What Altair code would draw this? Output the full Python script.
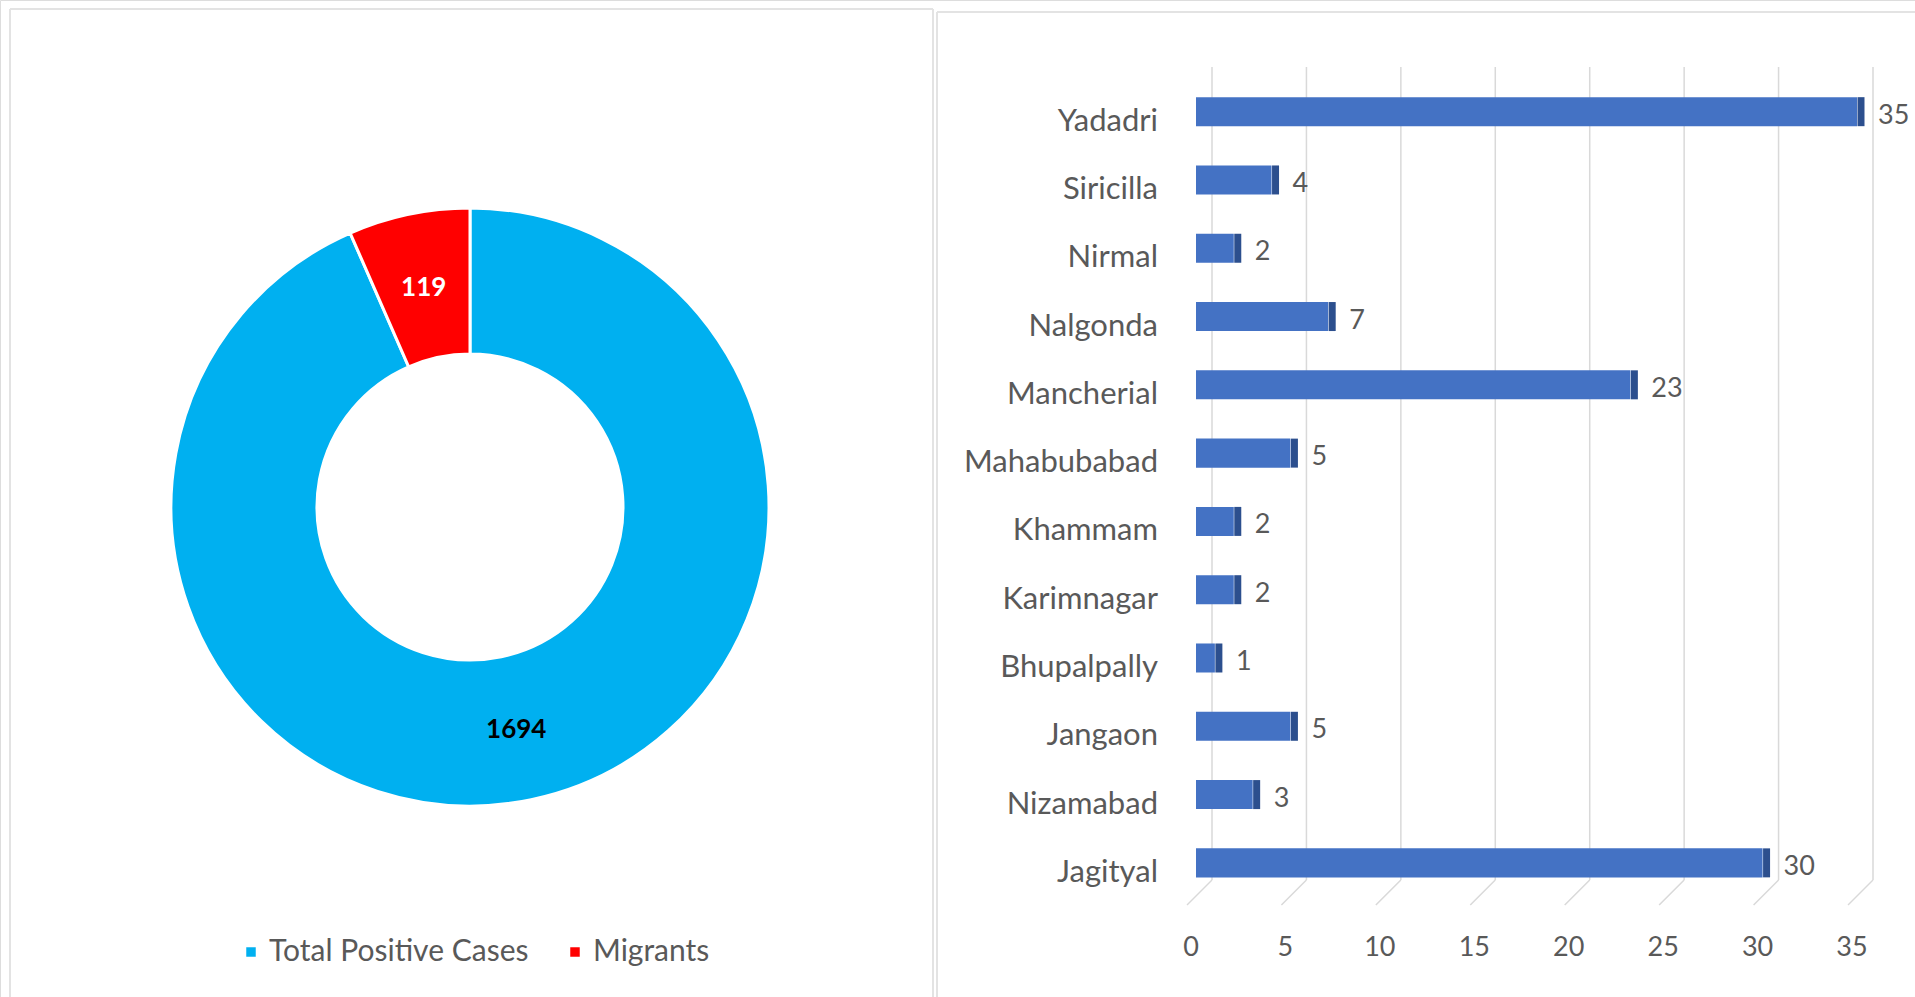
import altair as alt
import pandas as pd

# ---- data ----
districts = ["Yadadri", "Siricilla", "Nirmal", "Nalgonda", "Mancherial", "Mahabubabad",
             "Khammam", "Karimnagar", "Bhupalpally", "Jangaon", "Nizamabad", "Jagityal"]
counts = [35, 4, 2, 7, 23, 5, 2, 2, 1, 5, 3, 30]
categories = ["Total Positive Cases", "Migrants"]
case_values = [1694, 119]
ticks = [0, 5, 10, 15, 20, 25, 30, 35]

FONT = "Lato"
GRAY = "#595959"
GRID = "#d9d9d9"

donut_df = pd.DataFrame({"category": categories, "value": case_values,
                         "idx": list(range(len(categories)))})
bar_df = pd.DataFrame({"district": districts, "count": counts})
tick_df = pd.DataFrame({"tick": ticks})
one = pd.DataFrame({"a": [0]})

xscale = alt.Scale(domain=[0, 35], range=[1212, 1873], nice=False, zero=True)
yscale = alt.Scale(domain=districts, range=[67, 880], paddingInner=0.575,
                   paddingOuter=0.24, align=0.92)

# ---- donut ----
theta = alt.Theta("value:Q", stack=True)
order = alt.Order("idx:Q")
arc = alt.Chart(donut_df).mark_arc(radius=299, innerRadius=153, stroke="white",
                                   strokeWidth=3).encode(
    theta=theta,
    order=order,
    x=alt.value(470), y=alt.value(507),
    color=alt.Color("category:N",
                    scale=alt.Scale(domain=categories, range=["#00B0F0", "#FF0000"]),
                    legend=alt.Legend(orient="none", legendX=236, legendY=937,
                                      direction="horizontal", title=None,
                                      symbolType="square", symbolSize=90,
                                      symbolStrokeWidth=0, labelFontSize=30,
                                      labelColor=GRAY, labelFont=FONT,
                                      labelLimit=500,
                                      labelOffset=3, columnPadding=31)),
)
arc_text = alt.Chart(donut_df).mark_text(radius=226, fontSize=26, fontWeight="bold",
                                         font=FONT, dy=2).encode(
    theta=theta,
    order=order,
    x=alt.value(470), y=alt.value(507),
    text="value:Q",
    color=alt.condition("datum.category == 'Migrants'", alt.value("white"),
                        alt.value("black")),
)

# ---- bar chart ----
grid = alt.Chart(tick_df).mark_rule(color=GRID, strokeWidth=1.5).encode(
    x=alt.X("tick:Q", scale=xscale, axis=None),
    y=alt.value(67), y2=alt.value(880),
)
diag = alt.Chart(tick_df).mark_rule(color=GRID, strokeWidth=1.5, x2Offset=-25).encode(
    x=alt.X("tick:Q", scale=xscale, axis=None),
    x2="tick:Q",
    y=alt.value(880), y2=alt.value(905),
)
tick_labels = alt.Chart(tick_df).mark_text(fontSize=27, color=GRAY, font=FONT,
                                           dx=-21).encode(
    x=alt.X("tick:Q", scale=xscale, axis=None),
    y=alt.value(948),
    text="tick:Q",
)
bars = alt.Chart(bar_df).mark_bar(color="#4472C4", xOffset=-16).encode(
    x=alt.X("count:Q", scale=xscale, axis=None),
    y=alt.Y("district:N", scale=yscale, axis=None),
)
sides = alt.Chart(bar_df).mark_tick(color="#2C4F8E", orient="vertical", thickness=7,
                                    xOffset=-12, opacity=1).encode(
    x=alt.X("count:Q", scale=xscale, axis=None),
    y=alt.Y("district:N", scale=yscale, axis=None),
    size=alt.value(29),
)
values = alt.Chart(bar_df).mark_text(align="left", dx=5, dy=4, fontSize=27,
                                     color=GRAY, font=FONT).encode(
    x=alt.X("count:Q", scale=xscale, axis=None),
    y=alt.Y("district:N", scale=yscale, axis=None),
    text="count:Q",
)
ylabels = alt.Chart(bar_df).mark_text(align="right", dy=10, fontSize=31, color=GRAY,
                                      font=FONT).encode(
    x=alt.value(1158),
    y=alt.Y("district:N", scale=yscale, axis=None),
    text="district:N",
)

# ---- panel frames ----
def rule(x, y, x2=None, y2=None):
    enc = {"x": alt.value(x), "y": alt.value(y)}
    if x2 is not None:
        enc["x2"] = alt.value(x2)
    if y2 is not None:
        enc["y2"] = alt.value(y2)
    return alt.Chart(one).mark_rule(color="#e3e3e3", strokeWidth=2).encode(**enc)

frames = [
    rule(10, 9, x2=933),
    rule(10, 9, y2=997),
    rule(933, 9, y2=997),
    rule(937, 12, x2=1915),
    rule(937, 12, y2=997),
]

chart = alt.layer(*frames, grid, diag, tick_labels, bars, sides, values, ylabels,
                  arc, arc_text).properties(
    width=1915, height=997, padding=0, autosize="none",
).resolve_scale(color="independent").configure_view(stroke=None).configure(
    font=FONT, background="white")

chart.save("out.html", embed_options={"renderer": "svg", "actions": False})
